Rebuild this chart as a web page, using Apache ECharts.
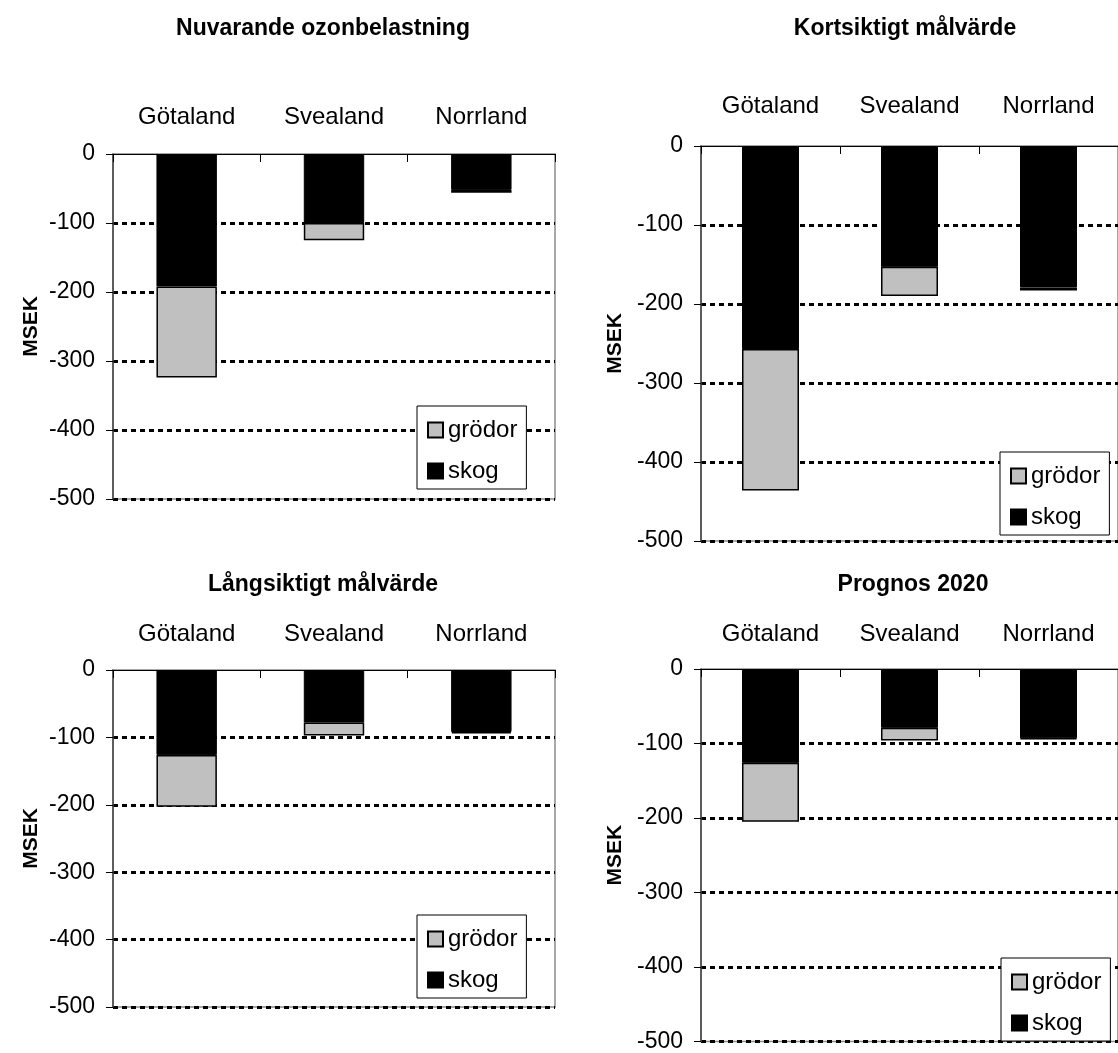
<!DOCTYPE html>
<html>
<head>
<meta charset="utf-8">
<script src="https://cdn.jsdelivr.net/npm/echarts@6/dist/echarts.min.js"></script>
<style>
html,body{margin:0;padding:0;background:#fff;}
#c{width:1118px;height:1053px;}
</style>
</head>
<body>
<div id="c"></div>
<script>
// ---- data ----
const categories = ['Götaland', 'Svealand', 'Norrland'];
const titles = ['Nuvarande ozonbelastning', 'Kortsiktigt målvärde', 'Långsiktigt målvärde', 'Prognos 2020'];
const seriesNames = ['skog', 'grödor'];
const skog1 = [-192, -100, -52];
const grodor1 = [-132, -25, -4];
const skog2 = [-257, -153, -179];
const grodor2 = [-179, -37, -4];
const skog3 = [-126, -78, -92];
const grodor3 = [-77, -19, -2];
const skog4 = [-126, -79, -93];
const grodor4 = [-79, -17, -1];
const yMin = -500, yMax = 0, yStep = 100;
const yAxisName = 'MSEK';

const skogData = [skog1, skog2, skog3, skog4];
const grodorData = [grodor1, grodor2, grodor3, grodor4];

// ---- layout ----
const FONT = "'Liberation Sans', Arial, Helvetica, sans-serif";
const grids = [
  {left: 113, top: 154, width: 442, height: 345},
  {left: 701, top: 146, width: 425, height: 395},
  {left: 113, top: 670, width: 442, height: 337},
  {left: 701, top: 669, width: 425, height: 376}
];
const titlePos = [[318, 12], [900, 12], [318, 568], [908, 568]];
const labelMargins = [25, 28, 24, 23];
const nameGaps = [71, 75, 71, 75];
const legendPos = [[417, 406], [1000, 452], [417, 915], [1001, 958]];

const option = {
  backgroundColor: '#fff',
  animation: false,
  textStyle: {fontFamily: FONT},
  title: titles.map((t, i) => ({
    text: t,
    left: titlePos[i][0],
    top: titlePos[i][1],
    textAlign: 'center',
    textStyle: {fontFamily: FONT, fontSize: 23, fontWeight: 'bold', color: '#000'}
  })),
  legend: legendPos.map((p, i) => ({
    orient: 'vertical',
    left: p[0],
    top: p[1],
    data: ['grödor', 'skog'],
    backgroundColor: '#fff',
    borderColor: '#000',
    borderWidth: 1,
    padding: [12, 9, 6, 10],
    itemGap: 17,
    itemWidth: 15,
    itemHeight: 15,
    icon: 'rect',
    selectedMode: false,
    textStyle: {fontFamily: FONT, fontSize: 24, color: '#000'}
  })),
  grid: grids.map(g => Object.assign({
    show: true,
    borderColor: '#8a8a8a',
    borderWidth: 1.5,
    backgroundColor: 'transparent',
    containLabel: false
  }, g)),
  xAxis: grids.map((g, i) => ({
    type: 'category',
    gridIndex: i,
    position: 'top',
    data: categories,
    axisLine: {show: true, lineStyle: {color: '#000', width: 1}},
    axisTick: {show: true, inside: true, length: 8, lineStyle: {color: '#000', width: 1}},
    axisLabel: {fontFamily: FONT, fontSize: 24, color: '#000', margin: labelMargins[i]},
    splitLine: {show: false}
  })),
  yAxis: grids.map((g, i) => ({
    type: 'value',
    gridIndex: i,
    min: yMin,
    max: yMax,
    interval: yStep,
    name: yAxisName,
    nameLocation: 'middle',
    nameRotate: 90,
    nameGap: nameGaps[i],
    nameTextStyle: {fontFamily: FONT, fontSize: 21, fontWeight: 'bold', color: '#000'},
    axisLine: {show: true, lineStyle: {color: '#444', width: 1.5}},
    axisTick: {show: true, inside: false, length: 7, lineStyle: {color: '#000', width: 1}},
    axisLabel: {fontFamily: FONT, fontSize: 23, color: '#000', margin: 18},
    splitLine: {show: true, showMaxLine: false, showMinLine: true, lineStyle: {color: '#000', width: 3, type: [5, 4]}}
  })),
  series: []
};

for (let i = 0; i < 4; i++) {
  option.series.push({
    name: 'skog',
    type: 'bar',
    xAxisIndex: i,
    yAxisIndex: i,
    stack: 'p' + i,
    barWidth: '41%',
    data: skogData[i],
    itemStyle: {color: '#000', borderColor: '#000', borderWidth: 1}
  });
  option.series.push({
    name: 'grödor',
    type: 'bar',
    xAxisIndex: i,
    yAxisIndex: i,
    stack: 'p' + i,
    barWidth: '41%',
    data: grodorData[i],
    itemStyle: {color: '#c0c0c0', borderColor: '#000', borderWidth: 1.5}
  });
}

const chart = echarts.init(document.getElementById('c'), null, {renderer: 'canvas'});
chart.setOption(option);
</script>
</body>
</html>
